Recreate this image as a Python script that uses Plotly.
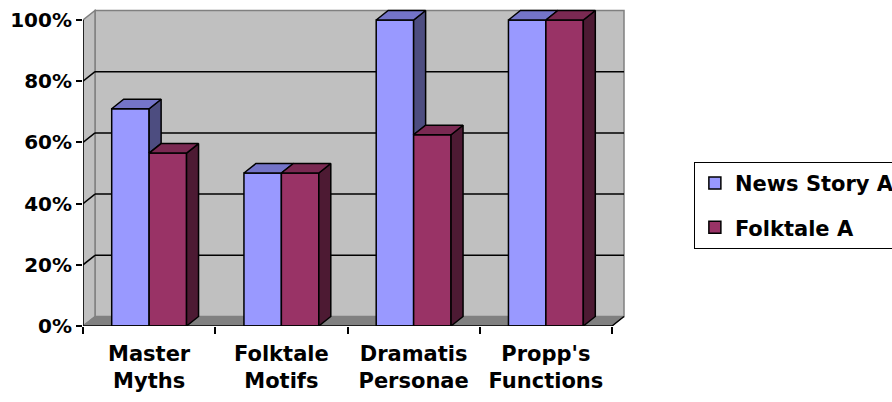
import plotly.graph_objects as go

# ---- data -------------------------------------------------------------
categories = ["Master<br>Myths", "Folktale<br>Motifs", "Dramatis<br>Personae", "Propp's<br>Functions"]
series_names = ["News Story A", "Folktale A"]
news_story_a = [0.71, 0.50, 1.00, 1.00]
folktale_a = [0.565, 0.50, 0.625, 1.00]
y_ticks = [0, 0.2, 0.4, 0.6, 0.8, 1.0]

# ---- styling ----------------------------------------------------------
FONT = "DejaVu Sans"
front_colors = ["#9999FF", "#993366"]
top_colors = ["#7474C8", "#7A2952"]
side_colors = ["#4D4D80", "#4D1A33"]
WALL = "#C0C0C0"
FLOOR = "#808080"
EDGE = "#808080"

BAR_W = 0.283          # width of one bar, in category units
DX, DY = 0.0907, 0.031  # oblique depth offset (x in category units, y in value units)

xpos = list(range(len(categories)))
values = [news_story_a, folktale_a]
offsets = [-BAR_W, 0.0]

fig = go.Figure()

# front faces of the bars
for s, name in enumerate(series_names):
    fig.add_trace(go.Bar(
        x=xpos, y=values[s], name=name, width=BAR_W, offset=offsets[s],
        marker=dict(color=front_colors[s], line=dict(color="black", width=1.5)),
        legendgroup=name, hoverinfo="skip",
    ))


def poly_trace(pts_list, color):
    xs, ys = [], []
    for pts in pts_list:
        for px, py in pts:
            xs.append(px)
            ys.append(py)
        xs.append(None)
        ys.append(None)
    return go.Scatter(
        x=xs, y=ys, mode="lines", fill="toself", fillcolor=color,
        line=dict(color="black", width=1.5), showlegend=False, hoverinfo="skip",
    )


# side and top faces, series drawn back to front
for s in range(len(series_names)):
    sides, tops = [], []
    for i, x in enumerate(xpos):
        v = values[s][i]
        x0 = x + offsets[s]
        x1 = x0 + BAR_W
        # the next series' bar stands in front of this bar's right side
        base = values[s + 1][i] if s + 1 < len(values) else 0.0
        if v > base:
            sides.append([(x1, base), (x1, v), (x1 + DX, v + DY), (x1 + DX, base + DY), (x1, base)])
        tops.append([(x0, v), (x1, v), (x1 + DX, v + DY), (x0 + DX, v + DY), (x0, v)])
    if sides:
        fig.add_trace(poly_trace(sides, side_colors[s]))
    fig.add_trace(poly_trace(tops, top_colors[s]))

# ---- walls, floor and gridlines ------------------------------------
xl, xr = -0.5, len(categories) - 0.5
shapes = []
shapes.append(dict(type="rect", layer="below", x0=xl + DX, x1=xr + DX, y0=DY, y1=1 + DY,
                   fillcolor=WALL, line=dict(color=EDGE, width=1.5)))
shapes.append(dict(type="path", layer="below",
                   path=f"M {xl},0 L {xl},1 L {xl + DX},{1 + DY} L {xl + DX},{DY} Z",
                   fillcolor=WALL, line=dict(color=EDGE, width=1.5)))
shapes.append(dict(type="path", layer="below",
                   path=f"M {xl},0 L {xr},0 L {xr + DX},{DY} L {xl + DX},{DY} Z",
                   fillcolor=FLOOR, line=dict(color=EDGE, width=1)))
for t in y_ticks[1:-1]:
    shapes.append(dict(type="line", layer="below", x0=xl + DX, x1=xr + DX, y0=t + DY, y1=t + DY,
                       line=dict(color="black", width=1.5)))
    shapes.append(dict(type="line", layer="below", x0=xl, x1=xl + DX, y0=t, y1=t + DY,
                       line=dict(color="black", width=1.5)))
# front edges: value axis and floor front / right edges
shapes.append(dict(type="line", layer="above", x0=xl, x1=xl, y0=0, y1=1,
                   line=dict(color="black", width=1.5)))
shapes.append(dict(type="line", layer="above", x0=xl, x1=xr, y0=0, y1=0,
                   line=dict(color="black", width=1.5)))
shapes.append(dict(type="line", layer="above", x0=xr, x1=xr + DX, y0=0, y1=DY,
                   line=dict(color="black", width=1.5)))

y_tick_font = dict(family=FONT, size=20, color="black", weight="bold")
x_tick_font = dict(family=FONT, size=21, color="black", weight="bold")

fig.update_layout(
    width=892, height=402,
    margin=dict(l=83, r=266, t=8, b=76, autoexpand=False),
    paper_bgcolor="white", plot_bgcolor="white",
    shapes=shapes,
    showlegend=True,
    legend=dict(
        x=1.125, xanchor="left", y=0.516, yanchor="top",
        bgcolor="white", bordercolor="black", borderwidth=1,
        font=dict(family=FONT, size=21, color="black", weight="bold"),
        traceorder="grouped", tracegroupgap=14,
    ),
    xaxis=dict(
        range=[xl, xl + 543 / 132.25], tickvals=xpos, ticktext=categories,
        ticks="", showgrid=False, zeroline=False, showline=False,
        tickfont=x_tick_font, ticklabelstandoff=13,
        minor=dict(tickvals=[xl + k for k in range(len(categories) + 1)], ticks="outside",
                   ticklen=7, tickwidth=1.5, tickcolor="black", showgrid=False),
    ),
    yaxis=dict(
        range=[0, 318 / 306], tickvals=y_ticks, tickformat=".0%",
        ticks="outside", ticklen=6, tickwidth=1.5, tickcolor="black",
        showgrid=False, zeroline=False, showline=False, tickfont=y_tick_font,
    ),
)

fig.write_html("out.html")
